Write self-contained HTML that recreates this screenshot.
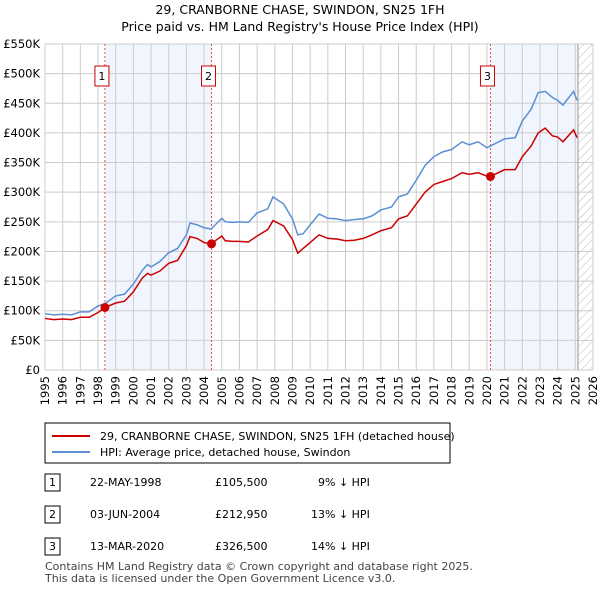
<!DOCTYPE html>
<html><head><meta charset="utf-8"><style>
body{margin:0;background:#fff;font-family:"Liberation Sans","DejaVu Sans",sans-serif;}
svg text{font-family:"DejaVu Sans","Liberation Sans",sans-serif;}
</style></head><body>
<svg id="c" width="600" height="590" xmlns="http://www.w3.org/2000/svg">
<defs><pattern id="h" width="6" height="6" patternUnits="userSpaceOnUse" patternTransform="rotate(45)"><line x1="0" y1="0" x2="0" y2="6" stroke="#bbb" stroke-width="1"/></pattern></defs>
<text x="300" y="14" text-anchor="middle" font-size="12.5">29, CRANBORNE CHASE, SWINDON, SN25 1FH</text>
<text x="300" y="31" text-anchor="middle" font-size="12.5">Price paid vs. HM Land Registry's House Price Index (HPI)</text>
<g id="plot"></g>
<rect x="45" y="423" width="405" height="40" fill="#fff" stroke="#000"/>
<line x1="52" y1="436" x2="90" y2="436" stroke="#cc0000" stroke-width="2"/>
<text x="100" y="440" font-size="11">29, CRANBORNE CHASE, SWINDON, SN25 1FH (detached house)</text>
<line x1="52" y1="452" x2="90" y2="452" stroke="#5b8fd4" stroke-width="2"/>
<text x="100" y="456" font-size="11">HPI: Average price, detached house, Swindon</text>
<g font-size="11">
<rect x="45" y="474" width="15" height="17" fill="#fff" stroke="#000"/><text x="52.5" y="486" text-anchor="middle">1</text>
<text x="90" y="486">22-MAY-1998</text><text x="215" y="486">£105,500</text><text x="318" y="486">9% ↓ HPI</text>
<rect x="45" y="506" width="15" height="17" fill="#fff" stroke="#000"/><text x="52.5" y="518" text-anchor="middle">2</text>
<text x="90" y="518">03-JUN-2004</text><text x="215" y="518">£212,950</text><text x="311" y="518">13% ↓ HPI</text>
<rect x="45" y="538" width="15" height="17" fill="#fff" stroke="#000"/><text x="52.5" y="550" text-anchor="middle">3</text>
<text x="90" y="550">13-MAR-2020</text><text x="215" y="550">£326,500</text><text x="311" y="550">14% ↓ HPI</text>
</g>
<text x="45" y="570" font-size="11" fill="#444">Contains HM Land Registry data © Crown copyright and database right 2025.</text>
<text x="45" y="582" font-size="11" fill="#444">This data is licensed under the Open Government Licence v3.0.</text>
</svg>
<script>
const hpiYears=[1995,1995.5,1996,1996.5,1997,1997.5,1998,1998.4,1999,1999.5,2000,2000.5,2000.8,2001,2001.5,2002,2002.5,2003,2003.2,2003.6,2004,2004.4,2005,2005.2,2005.6,2006,2006.5,2007,2007.6,2007.9,2008.5,2009,2009.3,2009.6,2010,2010.5,2011,2011.5,2012,2012.5,2013,2013.5,2014,2014.6,2015,2015.5,2016,2016.5,2017,2017.5,2018,2018.6,2019,2019.5,2020,2020.2,2021,2021.6,2022,2022.5,2022.9,2023.3,2023.7,2024,2024.3,2024.9,2025.1];
const hpiValues=[95,93,94,93,98,98,108,112,125,128,145,168,178,174,183,198,205,228,248,245,240,238,256,250,249,250,249,265,272,292,280,255,228,230,245,263,256,255,252,254,255,260,270,275,292,297,320,345,360,368,372,385,380,385,375,378,390,392,420,440,468,470,460,455,447,470,455];
const priceYears=hpiYears;
const priceValues=[87,85,86,85,89,89,97,105.5,113,116,132,155,163,160,167,180,185,210,225,222,215,213,226,218,217,217,216,226,237,252,243,220,197,205,215,228,222,221,218,219,222,228,235,240,255,260,280,300,313,318,323,333,330,333,327,326.5,338,338,360,378,400,408,395,393,385,405,392];
const sales=[{n:"1",x:1998.39,v:105.5},{n:"2",x:2004.42,v:212.95},{n:"3",x:2020.2,v:326.5}];
const yTicks=[0,50,100,150,200,250,300,350,400,450,500,550];
const xTicks=[1995,1996,1997,1998,1999,2000,2001,2002,2003,2004,2005,2006,2007,2008,2009,2010,2011,2012,2013,2014,2015,2016,2017,2018,2019,2020,2021,2022,2023,2024,2025,2026];
const X0=45,X1=593,Y0=370,Y1=44;
const sx=y=>X0+(y-1995)/(2026-1995)*(X1-X0);
const sy=v=>Y0-v/550*(Y0-Y1);
const NS="http://www.w3.org/2000/svg";
const g=document.getElementById('plot');
function mk(t,a){const e=document.createElementNS(NS,t);for(const k in a)e.setAttribute(k,a[k]);g.appendChild(e);return e;}
let e;
const END=2025.15;
e=mk('rect',{x:sx(1998.39),y:Y1,width:sx(2004.42)-sx(1998.39),height:Y0-Y1,fill:'#eef3fc',opacity:0.8});


e=mk('rect',{x:sx(2020.2),y:Y1,width:sx(END)-sx(2020.2),height:Y0-Y1,fill:'#eef3fc',opacity:0.8});


e=mk('rect',{x:sx(END),y:Y1,width:X1-sx(END),height:Y0-Y1,fill:'url(#h)'});


yTicks.forEach(v=>{
 e=mk('line',{x1:X0,x2:X1,y1:sy(v),y2:sy(v),stroke:'#cccccc','stroke-width':1});
 
 
 e=mk('text',{x:40,y:sy(v)+4,'text-anchor':'end','font-size':11.5});
 e.textContent=v===0?'£0':'£'+v+'K';
 
 
});
xTicks.forEach(y=>{
 e=mk('line',{x1:sx(y),x2:sx(y),y1:Y1,y2:Y0,stroke:'#cccccc','stroke-width':1});
 
 
 e=mk('text',{x:0,y:0,'text-anchor':'end','font-size':11.5,transform:`translate(${sx(y)+4},${Y0+6}) rotate(-90)`});
 e.textContent=y;
 
 
});
e=mk('line',{x1:sx(END),x2:sx(END),y1:Y1,y2:Y0,stroke:'#999','stroke-width':1});


sales.forEach(s=>{
 e=mk('line',{x1:sx(s.x),x2:sx(s.x),y1:Y1,y2:Y0,stroke:'#e05050','stroke-width':1,'stroke-dasharray':'2,2'});
 
 
});
e=mk('polyline',{points:hpiYears.map((y,i)=>sx(y)+','+sy(hpiValues[i])).join(' '),fill:'none',stroke:'#5b8fd4','stroke-width':1.5});


e=mk('polyline',{points:priceYears.map((y,i)=>sx(y)+','+sy(priceValues[i])).join(' '),fill:'none',stroke:'#cc0000','stroke-width':1.5});


sales.forEach(s=>{
 e=mk('circle',{cx:sx(s.x),cy:sy(s.v),r:4.5,fill:'#cc0000'});
 
 
 e=mk('rect',{x:sx(s.x)-10,y:66,width:14,height:20,fill:'#fff',stroke:'#cc0000'});
 
 
 e=mk('text',{x:sx(s.x)-3,y:80,'text-anchor':'middle','font-size':11});
 e.textContent=s.n;
 
 
});
</script>
</body></html>
